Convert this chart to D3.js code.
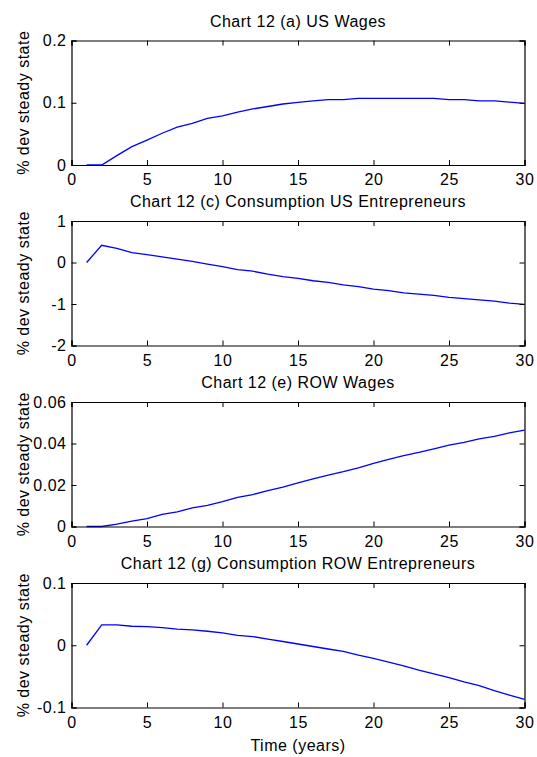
<!DOCTYPE html>
<html><head><meta charset="utf-8">
<script src="https://cdn.jsdelivr.net/npm/d3@7"></script>
<style>
html,body{margin:0;padding:0;background:#fff;}
text{font-family:"Liberation Sans",Arial,sans-serif;fill:#000;letter-spacing:0.5px;}
</style></head>
<body>
<svg id="c" width="537" height="757"></svg>
<script>
const years = d3.range(1, 31);
const usWages = [0,0,0.015,0.0295,0.040,0.051,0.061,0.067,0.075,0.079,0.085,0.090,0.094,0.098,0.1005,0.103,0.105,0.105,0.107,0.107,0.107,0.107,0.107,0.107,0.105,0.105,0.103,0.103,0.101,0.099];
const consUS = [0,0.415,0.34,0.24,0.19,0.135,0.08,0.025,-0.04,-0.10,-0.17,-0.21,-0.28,-0.34,-0.38,-0.44,-0.48,-0.54,-0.58,-0.64,-0.68,-0.73,-0.76,-0.79,-0.84,-0.87,-0.90,-0.93,-0.98,-1.01];
const rowWages = [0,0,0.0011,0.0026,0.0038,0.0058,0.007,0.009,0.0102,0.012,0.014,0.0154,0.0173,0.019,0.021,0.023,0.0248,0.0264,0.0283,0.0304,0.0323,0.0342,0.0357,0.0374,0.0392,0.0405,0.0422,0.0434,0.0451,0.0464];
const consROW = [0,0.0326,0.0326,0.0305,0.030,0.0283,0.026,0.0246,0.0225,0.020,0.016,0.014,0.010,0.006,0.002,-0.002,-0.006,-0.010,-0.016,-0.021,-0.027,-0.033,-0.040,-0.046,-0.052,-0.059,-0.065,-0.073,-0.080,-0.087];

const xTicks = [0,5,10,15,20,25,30];
const titles = ["Chart 12 (a) US Wages","Chart 12 (c) Consumption US Entrepreneurs","Chart 12 (e) ROW Wages","Chart 12 (g) Consumption ROW Entrepreneurs"];
const yDomains = [[0,0.2],[-2,1],[0,0.06],[-0.1,0.1]];
const yTicks = [[0,0.1,0.2],[-2,-1,0,1],[0,0.02,0.04,0.06],[-0.1,0,0.1]];
const yTickLabels = [["0","0.1","0.2"],["-2","-1","0","1"],["0","0.02","0.04","0.06"],["-0.1","0","0.1"]];
const series = [usWages, consUS, rowWages, consROW];
const yLabel = "% dev steady state";
const xLabel = "Time (years)";

const svg = d3.select("#c");
const L = 71.5, R = 524.5;
const tops = [40.5, 221, 402, 583];
const H = 124.5;
const tickLen = 5;
const fs = 16;

const x = d3.scaleLinear().domain([0,30]).range([L,R]);

tops.forEach((top, i) => {
  const y = d3.scaleLinear().domain(yDomains[i]).range([top+H, top]);
  const g = svg.append("g");
  const line = d3.line().x((d,j)=>x(years[j])).y(d=>y(d));
  g.append("path").datum(series[i]).attr("d", line)
    .attr("fill","none").attr("stroke","#0000ff").attr("stroke-width",1.3);
  const ab = d3.axisBottom(x).tickValues(xTicks).tickSize(-tickLen).tickPadding(9).tickFormat(d3.format("d"));
  const gb = g.append("g").attr("transform",`translate(0,${top+H})`).call(ab);
  const at = d3.axisTop(x).tickValues(xTicks).tickSize(-tickLen).tickFormat("");
  const gt = g.append("g").attr("transform",`translate(0,${top})`).call(at);
  const al = d3.axisLeft(y).tickValues(yTicks[i]).tickSize(-tickLen).tickPadding(5).tickFormat((d,k)=>yTickLabels[i][k]);
  const gl = g.append("g").attr("transform",`translate(${L},0)`).call(al);
  const ar = d3.axisRight(y).tickValues(yTicks[i]).tickSize(-tickLen).tickFormat("");
  const gr = g.append("g").attr("transform",`translate(${R},0)`).call(ar);
  [gb,gt,gl,gr].forEach(a=>{
    a.select(".domain").attr("stroke","#000").attr("stroke-width",1.2);
    a.selectAll(".tick line").attr("stroke","#000").attr("stroke-width",1);
    a.selectAll("text").attr("font-size",fs).attr("font-family","'Liberation Sans',Arial,sans-serif").attr("fill","#000");
  });
  g.append("text").attr("x",(L+R)/2).attr("y",top-14).attr("text-anchor","middle")
    .attr("font-size",fs).text(titles[i]);
  g.append("text").attr("transform",`translate(29,${top+H/2}) rotate(-90)`)
    .attr("text-anchor","middle").attr("font-size",fs).text(yLabel);
});
svg.append("text").attr("x",(L+R)/2).attr("y",751).attr("text-anchor","middle")
  .attr("font-size",fs).text(xLabel);
</script>
</body></html>
